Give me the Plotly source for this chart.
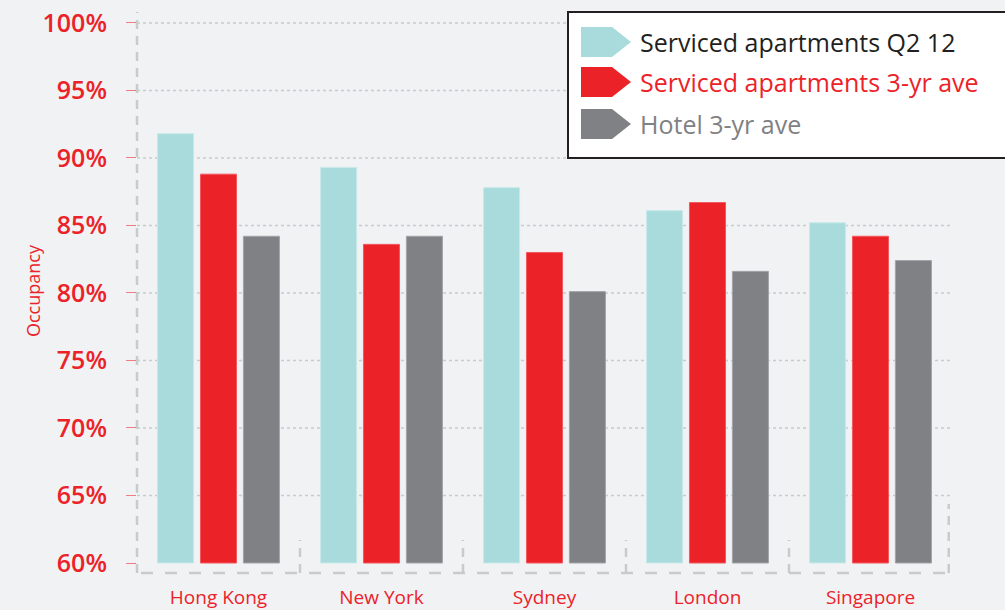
import plotly.graph_objects as go

cities = ["Hong Kong", "New York", "Sydney", "London", "Singapore"]
sa_q2_12 = [91.8, 89.3, 87.8, 86.1, 85.2]
sa_3yr = [88.8, 83.6, 83.0, 86.7, 84.2]
hotel_3yr = [84.2, 84.2, 80.1, 81.6, 82.4]
series_names = ["Serviced apartments Q2 12", "Serviced apartments 3-yr ave", "Hotel 3-yr ave"]
y_ticks = [60, 65, 70, 75, 80, 85, 90, 95, 100]
base = 60

TEAL = "#a9dbdc"
RED = "#ec2229"
GREY = "#808184"
BG = "#f1f2f4"
FONT = "Open Sans"

# plot area in pixels (figure 1005 x 610)
L, R, T, B = 137, 952, 12, 573
def px(x):
    return (x - L) / (R - L)
def py(y):
    return (B - y) / (B - T)

fig = go.Figure()
series = [sa_q2_12, sa_3yr, hotel_3yr]
colors = [TEAL, RED, GREY]
edges = ["#c8e9e9", "#f2595f", "#a3a4a7"]
for name, vals, c, e in zip(series_names, series, colors, edges):
    fig.add_trace(go.Bar(
        x=cities, y=[v - base for v in vals], base=base, name=name,
        marker=dict(color=c, line=dict(color=e, width=1)),
        showlegend=False,
    ))

fig.update_layout(
    width=1005, height=610,
    margin=dict(l=L, r=1005 - R, t=T, b=610 - B, autoexpand=False),
    paper_bgcolor=BG, plot_bgcolor=BG,
    barmode="group", bargap=0.21, bargroupgap=0.16,
    font=dict(family=FONT),
    xaxis=dict(
        range=[-0.5, 4.5], showgrid=False, showline=False, zeroline=False,
        automargin=False, ticks="", ticklabelstandoff=11,
        tickfont=dict(color=RED, size=19, weight=500),
    ),
    yaxis=dict(
        range=[59.26, 100.81], tickvals=y_ticks,
        ticktext=[f"{v}%" for v in y_ticks],
        showgrid=False, zeroline=False, showline=False, automargin=False,
        ticks="outside", ticklen=10, tickwidth=1, tickcolor="#f27b80",
        tickfont=dict(color=RED, size=25, weight=600), ticklabelstandoff=14,
    ),
)

# dotted gridlines (none at the 60% baseline)
for v in y_ticks[1:]:
    fig.add_shape(type="line", xref="paper", yref="y", x0=0, x1=1, y0=v, y1=v,
                  line=dict(color="#c8cbcd", width=1.5, dash="3px,3px"), layer="below")

# dashed frame: left axis, bottom line and category separators
frame = dict(color="#c6cccc", width=2.5)
fig.add_shape(type="line", xref="paper", yref="paper", x0=0, x1=0, y0=0, y1=1,
              line=dict(frame, dash="9px,7px"), layer="below")
fig.add_shape(type="line", xref="paper", yref="paper", x0=px(141), x1=px(948), y0=0, y1=0,
              line=dict(frame, dash="12px,12px"), layer="below")
for i in range(1, len(cities)):
    fig.add_shape(type="line", xref="x", yref="paper", x0=i - 0.5, x1=i - 0.5,
                  y0=0, y1=py(540), line=dict(frame, dash="9px,7px"), layer="below")
fig.add_shape(type="line", xref="x", yref="paper", x0=4.48, x1=4.48, y0=0, y1=py(504),
              line=dict(frame, dash="9px,7px"), layer="below")

# y axis title
fig.add_annotation(text="Occupancy", xref="paper", yref="paper", x=px(19), y=py(291),
                   textangle=-90, showarrow=False, font=dict(color=RED, size=18))

# legend box
fig.add_shape(type="rect", xref="paper", yref="paper", x0=px(568), x1=px(1040),
              y0=py(158), y1=py(12), fillcolor="white",
              line=dict(color="#231f20", width=2), layer="above")
legend_text_colors = ["#231f20", RED, GREY]
for i, (name, c, tc) in enumerate(zip(series_names, colors, legend_text_colors)):
    top = [27, 67, 109][i]
    h = 30
    path = "M {} {} L {} {} L {} {} L {} {} L {} {} Z".format(
        px(581), py(top), px(612), py(top), px(631), py(top + h / 2),
        px(612), py(top + h), px(581), py(top + h))
    fig.add_shape(type="path", xref="paper", yref="paper", path=path,
                  fillcolor=c, line=dict(width=0), layer="above")
    fig.add_annotation(text=name, xref="paper", yref="paper", x=px(638), y=py(top + h / 2),
                       xanchor="left", yanchor="middle", showarrow=False,
                       font=dict(color=tc, size=25))

fig.write_html("out.html", config={"displayModeBar": False},
               post_script="document.body.style.margin='0';document.body.style.overflow='hidden';")
